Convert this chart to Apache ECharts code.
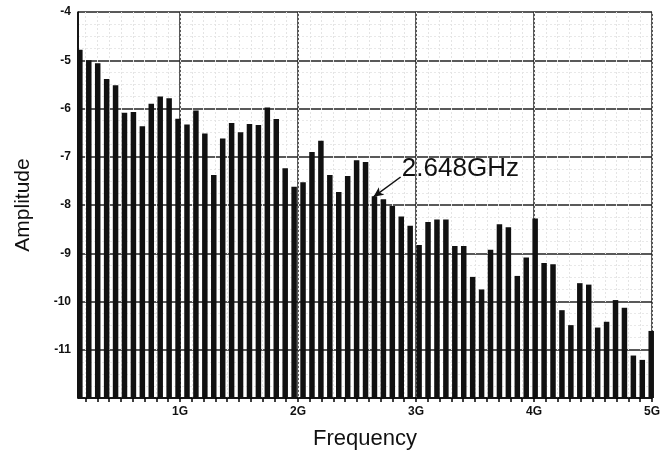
<!DOCTYPE html>
<html>
<head>
<meta charset="utf-8">
<title>Amplitude vs Frequency</title>
<script src="https://cdn.jsdelivr.net/npm/echarts@6/dist/echarts.min.js"></script>
<style>
  html, body { margin: 0; padding: 0; background: #fff; }
  #chart { width: 668px; height: 458px; }
</style>
</head>
<body>
<div id="chart"></div>
<script>
// harmonic amplitudes (first bar = 2nd harmonic)
var amplitude = [
  -4.78, -5.00, -5.06, -5.39, -5.52, -6.09, -6.07, -6.37, -5.90, -5.75,
  -5.79, -6.21, -6.33, -6.04, -6.52, -7.38, -6.62, -6.30, -6.49, -6.32,
  -6.34, -5.98, -6.22, -7.24, -7.62, -7.53, -6.90, -6.67, -7.38, -7.73,
  -7.40, -7.07, -7.11, -7.82, -7.88, -8.02, -8.24, -8.43, -8.83, -8.35,
  -8.30, -8.30, -8.85, -8.85, -9.49, -9.75, -8.93, -8.40, -8.46, -9.47,
  -9.09, -8.28, -9.20, -9.23, -10.18, -10.49, -9.62, -9.65, -10.54, -10.42,
  -9.97, -10.13, -11.12, -11.21, -10.61
];
var markedFreq = 2.648;          // GHz, 35th harmonic
var firstHarmonic = 2;
var yTicks = [-4, -5, -6, -7, -8, -9, -10, -11];

var f0 = markedFreq / 35;
var barData = [];
for (var i = 0; i < amplitude.length; i++) {
    barData.push([(i + firstHarmonic) * f0, amplitude[i]]);
}
// 0.1G tick marks along the frequency axis
var minorTicks = [];
for (var t = 2; t <= 50; t++) {
    minorTicks.push(t / 10);
}

var xMin = 0.1356, xMax = 5;

var chart = echarts.init(document.getElementById('chart'));
var option = {
    backgroundColor: '#fff',
    animation: false,
    grid: { left: 78, right: 16, top: 12, bottom: 60 },
    xAxis: [{
        type: 'value',
        min: xMin,
        max: xMax,
        splitNumber: 5,
        name: 'Frequency',
        nameLocation: 'middle',
        nameGap: 30,
        nameTextStyle: { fontFamily: 'Liberation Sans', fontSize: 22, color: '#111' },
        axisLine: { show: true, onZero: false, lineStyle: { color: '#000', width: 1.5 } },
        axisTick: { show: false },
        axisLabel: {
            showMinLabel: false,
            formatter: function (v) { return v + 'G'; },
            fontFamily: 'Liberation Sans',
            fontWeight: 'bold',
            fontSize: 12,
            color: '#111',
            margin: 8
        },
        splitLine: { show: true, lineStyle: { color: '#222', width: 1.5 } }
    }, {
        // tick marks + faint background grid
        type: 'value',
        position: 'bottom',
        min: xMin,
        max: xMax,
        axisLine: { show: false, onZero: false },
        axisTick: {
            show: true,
            customValues: minorTicks,
            length: 4,
            lineStyle: { color: '#000', width: 1.5 }
        },
        axisLabel: { show: false },
        splitLine: { show: true, lineStyle: { color: '#e4e4e4', width: 1, type: [2, 2] } }
    }],
    yAxis: {
        type: 'value',
        min: -12,
        max: -4,
        startValue: -12,
        interval: 1,
        name: 'Amplitude',
        nameLocation: 'middle',
        nameGap: 44,
        nameTextStyle: { fontFamily: 'Liberation Sans', fontSize: 21, color: '#111' },
        axisLine: { show: true, lineStyle: { color: '#000', width: 1.5 } },
        axisTick: { show: false },
        axisLabel: {
            showMinLabel: false,
            fontFamily: 'Liberation Sans',
            fontWeight: 'bold',
            fontSize: 12,
            color: '#111',
            margin: 7,
            formatter: function (v) { return yTicks.indexOf(v) >= 0 ? String(v) : ''; }
        },
        splitLine: { show: true, lineStyle: { color: '#222', width: 1.5 } },
        minorTick: { show: false, splitNumber: 4 },
        minorSplitLine: { show: true, lineStyle: { color: '#e8e8e8', width: 1, type: [2, 2] } }
    },
    series: [{
        type: 'bar',
        xAxisIndex: 0,
        data: barData,
        barWidth: 5.5,
        itemStyle: { color: '#111' },
        markLine: {
            silent: true,
            symbol: ['none', 'arrow'],
            symbolSize: [7, 10],
            lineStyle: { color: '#111', width: 1.5, type: 'solid' },
            label: { show: false },
            data: [[
                { coord: [2.87, -7.42] },
                { coord: [2.64, -7.83] }
            ]]
        },
        markPoint: {
            silent: true,
            symbol: 'circle',
            symbolSize: 0,
            label: {
                show: true,
                position: 'right',
                distance: 0,
                formatter: markedFreq + 'GHz',
                fontFamily: 'Liberation Sans',
                fontSize: 26,
                color: '#111'
            },
            data: [{ coord: [2.88, -7.25] }]
        }
    }]
};
chart.setOption(option);
</script>
</body>
</html>
